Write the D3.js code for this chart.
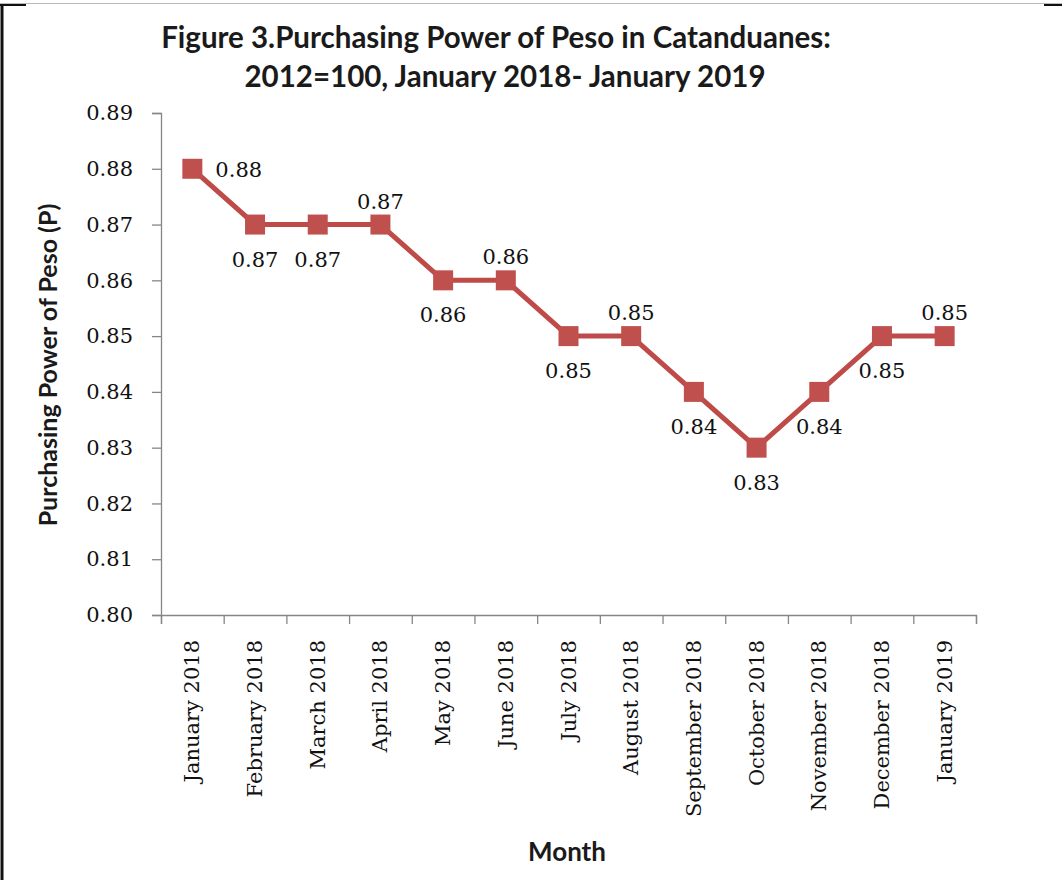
<!DOCTYPE html>
<html>
<head>
<meta charset="utf-8">
<script src="https://cdn.jsdelivr.net/npm/d3@7"></script>
<style>
  body { margin: 0; background: #fff; }
  svg { display: block; }
  .axis path, .axis line { stroke: #868686; stroke-width: 1.3; }
</style>
</head>
<body>
<div id="chart"></div>
<script>
var months = ["January 2018", "February 2018", "March 2018", "April 2018", "May 2018", "June 2018",
              "July 2018", "August 2018", "September 2018", "October 2018", "November 2018",
              "December 2018", "January 2019"];
var power = [0.88, 0.87, 0.87, 0.87, 0.86, 0.86, 0.85, 0.85, 0.84, 0.83, 0.84, 0.85, 0.85];
// where Excel put each data label
var labelPos = ["right", "below", "below", "above", "below", "above", "below", "above",
                "below", "below", "below", "below", "above"];
var yTicks = [0.80, 0.81, 0.82, 0.83, 0.84, 0.85, 0.86, 0.87, 0.88, 0.89];
var titleLines = ["Figure 3.Purchasing Power of Peso in Catanduanes:", "2012=100, January 2018- January 2019"];

var width = 1062, height = 880;
var margin = {top: 113, right: 86, bottom: 265, left: 161};
var lineColor = "#be4b48";
var serif = "'DejaVu Serif', serif";
var sans = "Lato, 'Open Sans', sans-serif";

var svg = d3.select("#chart").append("svg")
    .attr("width", width)
    .attr("height", height);

// frame bits around the screenshot
svg.append("line").attr("x1", 0).attr("x2", width).attr("y1", 3.5).attr("y2", 3.5)
    .attr("stroke", "#bbbbbb").attr("stroke-width", 1);
svg.append("line").attr("x1", 2).attr("x2", 2).attr("y1", 4).attr("y2", height)
    .attr("stroke", "#111").attr("stroke-width", 3);
svg.append("line").attr("x1", 0).attr("x2", 26).attr("y1", 5).attr("y2", 5)
    .attr("stroke", "#111").attr("stroke-width", 2);
svg.append("line").attr("x1", 1044).attr("x2", width).attr("y1", 5).attr("y2", 5)
    .attr("stroke", "#111").attr("stroke-width", 2);

var x = d3.scaleBand()
    .domain(months)
    .range([margin.left, width - margin.right]);
var xEdge = d3.scaleLinear()
    .domain([0, months.length])
    .range(x.range());
var y = d3.scaleLinear()
    .domain([0.80, 0.89])
    .range([height - margin.bottom, margin.top]);

// title
svg.append("g").selectAll("text")
    .data(titleLines)
    .enter().append("text")
    .attr("x", function(d, i){ return i == 0 ? 496 : 505; })
    .attr("y", function(d, i){ return 48 + i * 39; })
    .attr("text-anchor", "middle")
    .style("font-family", sans)
    .style("font-weight", "bold")
    .style("font-size", "29.5px")
    .attr("fill", "#1a1a1a")
    .text(function(d){ return d; });

// y axis
var yAxis = svg.append("g")
    .attr("class", "axis")
    .attr("transform", "translate(" + margin.left + ",0)")
    .call(d3.axisLeft(y).tickValues(yTicks).tickSize(9).tickPadding(19).tickFormat(d3.format(".2f")));
yAxis.selectAll("text")
    .style("font-family", serif)
    .style("font-size", "21px")
    .attr("fill", "#111");

// x axis: ticks on the category edges
var xAxis = svg.append("g")
    .attr("class", "axis")
    .attr("transform", "translate(0," + y(0.80) + ")")
    .call(d3.axisBottom(xEdge).ticks(months.length).tickSize(9).tickFormat(""));

svg.append("g").selectAll(".monthLabel")
    .data(months)
    .enter().append("text")
    .attr("class", "monthLabel")
    .attr("transform", function(d){
        return "translate(" + (x(d) + x.bandwidth() / 2 + 7) + "," + (y(0.80) + 25) + ") rotate(-90)";
    })
    .attr("text-anchor", "end")
    .style("font-family", serif)
    .style("font-size", "21px")
    .attr("fill", "#111")
    .text(function(d){ return d; });

// axis titles
svg.append("text")
    .attr("transform", "translate(57,365) rotate(-90)")
    .attr("text-anchor", "middle")
    .style("font-family", sans)
    .style("font-weight", "bold")
    .style("font-size", "25px")
    .attr("fill", "#1a1a1a")
    .text("Purchasing Power of Peso (P)");

svg.append("text")
    .attr("x", 567)
    .attr("y", 861)
    .attr("text-anchor", "middle")
    .style("font-family", sans)
    .style("font-weight", "bold")
    .style("font-size", "26px")
    .attr("fill", "#1a1a1a")
    .text("Month");

// line + markers
var cx = function(d, i){ return x(months[i]) + x.bandwidth() / 2; };
var line = d3.line()
    .x(cx)
    .y(function(d){ return y(d); });

svg.append("path")
    .datum(power)
    .attr("d", line)
    .attr("fill", "none")
    .attr("stroke", lineColor)
    .attr("stroke-width", 5)
    .attr("stroke-linejoin", "round");

svg.append("g").selectAll("rect")
    .data(power)
    .enter().append("rect")
    .attr("x", function(d, i){ return cx(d, i) - 10; })
    .attr("y", function(d){ return y(d) - 10; })
    .attr("width", 20)
    .attr("height", 20)
    .attr("fill", "#c0504d");

// data labels
svg.append("g").selectAll(".valLabel")
    .data(power)
    .enter().append("text")
    .attr("class", "valLabel")
    .attr("x", function(d, i){
        return labelPos[i] == "right" ? cx(d, i) + 23 : cx(d, i);
    })
    .attr("y", function(d, i){
        if (labelPos[i] == "above") return y(d) - 16;
        if (labelPos[i] == "below") return y(d) + 42;
        return y(d) + 8;
    })
    .attr("text-anchor", function(d, i){ return labelPos[i] == "right" ? "start" : "middle"; })
    .style("font-family", serif)
    .style("font-size", "21px")
    .attr("fill", "#111")
    .text(function(d){ return d3.format(".2f")(d); });
</script>
</body>
</html>
